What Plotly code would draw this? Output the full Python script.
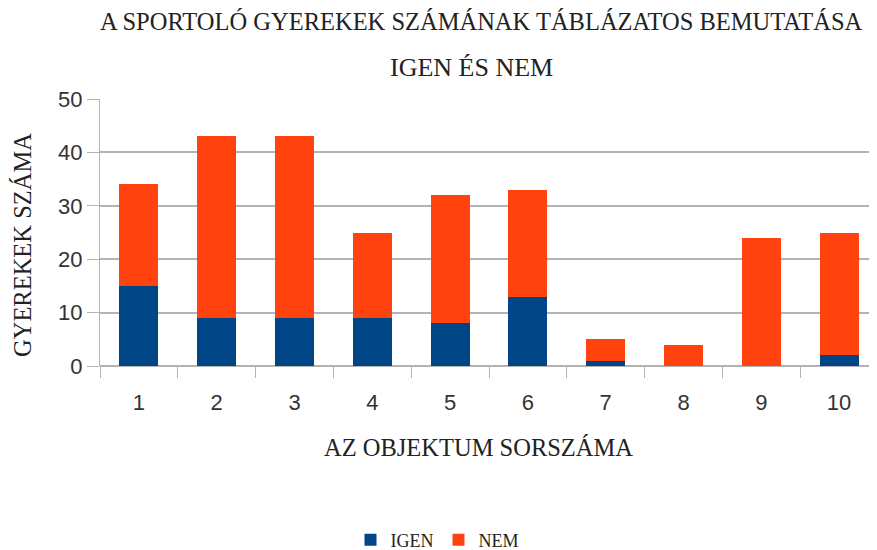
import plotly.graph_objects as go

categories = ["1", "2", "3", "4", "5", "6", "7", "8", "9", "10"]
igen = [15, 9, 9, 9, 8, 13, 1, 0, 0, 2]
nem = [19, 34, 34, 16, 24, 20, 4, 4, 24, 23]

title_line1 = "A SPORTOLÓ GYEREKEK SZÁMÁNAK TÁBLÁZATOS BEMUTATÁSA"
title_line2 = "IGEN ÉS NEM"
x_title = "AZ OBJEKTUM SORSZÁMA"
y_title = "GYEREKEK SZÁMA"

BLUE = "#004586"
ORANGE = "#ff420e"
SERIF = "Liberation Serif"
SANS = "Liberation Sans"
GRID = "#b3b3b3"
TXT = "#222222"

# page offset (browser body margin) and plot area geometry in figure px
OFF = 8
W, H = 877, 550
L, R, T, B = 92, 7, 91, 192
PW, PH = W - L - R, H - T - B


def px(x):
    return (x - OFF - L) / PW


def py(y):
    return (H - B - (y - OFF)) / PH


fig = go.Figure()
fig.add_trace(go.Bar(x=categories, y=igen, name="IGEN", marker=dict(color=BLUE, line=dict(width=0))))
fig.add_trace(go.Bar(x=categories, y=nem, name="NEM", marker=dict(color=ORANGE, line=dict(width=0))))

fig.update_layout(
    barmode="stack",
    bargap=0.5,
    width=W,
    height=H,
    paper_bgcolor="white",
    plot_bgcolor="white",
    margin=dict(l=L, r=R, t=T, b=B, autoexpand=False),
    showlegend=True,
    legend=dict(
        orientation="h",
        traceorder="normal",
        x=px(437), xanchor="center",
        y=py(540), yanchor="middle",
        font=dict(family=SERIF, size=18, color=TXT),
        itemwidth=30,
    ),
    annotations=[
        dict(text=title_line1, xref="paper", yref="paper",
             x=px(481), y=py(22), xanchor="center", yanchor="middle", showarrow=False,
             font=dict(family=SERIF, size=24.5, color=TXT)),
        dict(text=title_line2, xref="paper", yref="paper",
             x=px(471), y=py(68), xanchor="center", yanchor="middle", showarrow=False,
             font=dict(family=SERIF, size=26, color=TXT)),
        dict(text=x_title, xref="paper", yref="paper",
             x=px(478), y=py(447), xanchor="center", yanchor="middle", showarrow=False,
             font=dict(family=SERIF, size=24.5, color=TXT)),
        dict(text=y_title, xref="paper", yref="paper", textangle=-90,
             x=px(22), y=py(245), xanchor="center", yanchor="middle", showarrow=False,
             font=dict(family=SERIF, size=24.5, color=TXT)),
    ],
)

fig.update_xaxes(
    type="category",
    automargin=False,
    tickson="boundaries",
    ticks="outside",
    ticklen=11,
    tickcolor=GRID,
    ticklabelstandoff=21,
    tickfont=dict(family=SANS, size=22, color="#333"),
    showgrid=False,
    showline=False,
)
fig.update_yaxes(
    range=[0, 50],
    dtick=10,
    automargin=False,
    ticks="outside",
    ticklen=12,
    tickcolor=GRID,
    tickfont=dict(family=SANS, size=22, color="#333"),
    showgrid=True,
    gridcolor=GRID,
    gridwidth=1.5,
    zeroline=True,
    zerolinecolor=GRID,
    zerolinewidth=1.5,
    showline=True,
    linecolor=GRID,
    linewidth=1,
)

fig.write_html("out.html")
